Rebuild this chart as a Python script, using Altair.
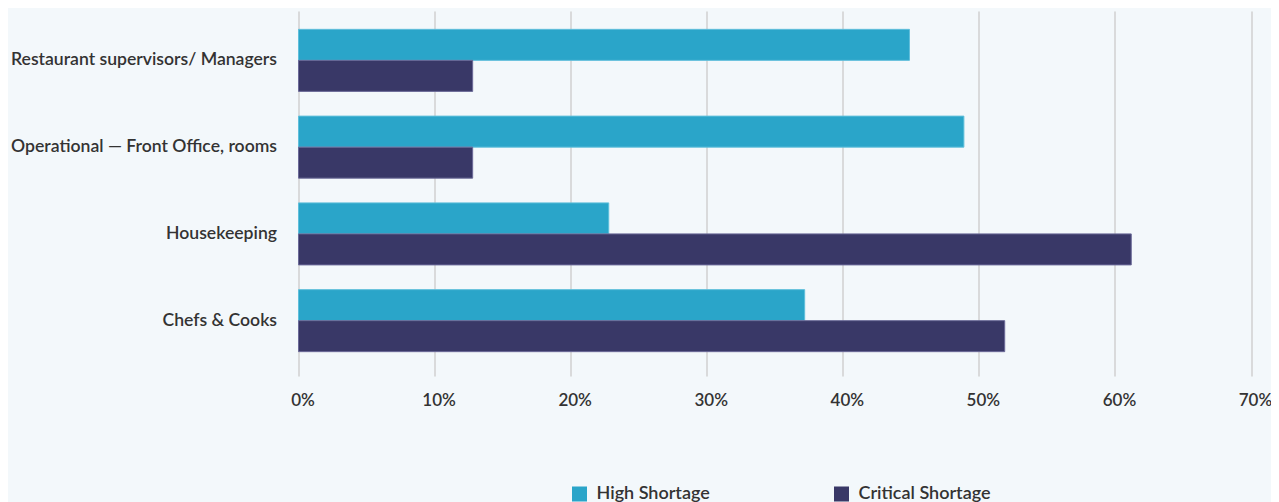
import altair as alt
import pandas as pd

categories = [
    "Restaurant supervisors/ Managers",
    "Operational — Front Office, rooms",
    "Housekeeping",
    "Chefs & Cooks",
]
series = ["High Shortage", "Critical Shortage"]
high = [44.9, 48.9, 22.8, 37.2]
critical = [12.8, 12.8, 61.2, 51.9]
ticks = [0, 10, 20, 30, 40, 50, 60, 70]

fill_colors = ["#2aa5c9", "#393867"]
stroke_colors = ["#5fbfdb", "#6b6a98"]

rows = []
for c, h, k in zip(categories, high, critical):
    rows.append({"category": c, "series": series[0], "value": h})
    rows.append({"category": c, "series": series[1], "value": k})
df = pd.DataFrame(rows)

FONT = "Lato"
TXT = "#333333"
BG = "#f3f8fb"

chart = (
    alt.Chart(df)
    .mark_bar(strokeWidth=1)
    .encode(
        y=alt.Y(
            "category:N",
            sort=categories,
            scale=alt.Scale(paddingInner=0.285, paddingOuter=0.246, align=0.43),
            axis=alt.Axis(
                title=None, ticks=False, domain=False, labelPadding=22,
                labelFontSize=17.6, labelColor=TXT, labelFont=FONT,
                labelFontWeight=600, labelLimit=400,
            ),
        ),
        yOffset=alt.YOffset(
            "series:N", sort=series,
            scale=alt.Scale(paddingInner=0, paddingOuter=0),
        ),
        x=alt.X(
            "value:Q",
            scale=alt.Scale(domain=[0, 70], nice=False, zero=True),
            axis=alt.Axis(
                title=None, values=ticks, grid=True, gridColor="#d0d0d0",
                gridWidth=1.5, domain=False, ticks=False, labelFlush=False,
                labelExpr="datum.value + '%'", labelPadding=16, labelOffset=4,
                labelFontSize=17, labelColor=TXT, labelFont=FONT,
                labelFontWeight=600,
            ),
        ),
        color=alt.Color(
            "series:N", sort=series,
            scale=alt.Scale(domain=series, range=fill_colors),
            legend=alt.Legend(
                title=None, orient="none", direction="horizontal",
                legendX=272, legendY=474, symbolType="square",
                symbolSize=225, symbolStrokeWidth=0, labelFontSize=18,
                labelFont=FONT, labelColor=TXT, labelFontWeight=600,
                labelOffset=8, columnPadding=122, padding=0,
            ),
        ),
        stroke=alt.Stroke(
            "series:N", sort=series,
            scale=alt.Scale(domain=series, range=stroke_colors),
            legend=None,
        ),
    )
    .properties(
        width=952.5,
        height=365,
        background=BG,
        padding={"left": 290.5, "top": 3, "right": 20, "bottom": 140},
        autosize=alt.AutoSizeParams(type="none"),
    )
    .configure_view(stroke=None)
)

chart.save("out.html", embed_options={"renderer": "svg", "actions": False})
